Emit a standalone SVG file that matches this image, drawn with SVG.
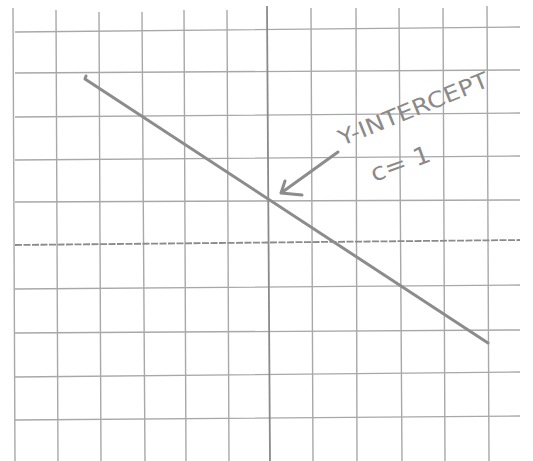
<svg xmlns="http://www.w3.org/2000/svg" width="533" height="461" viewBox="0 0 533 461">
<style>
.g{stroke:#a8a8a8;stroke-width:1.4;fill:none}
.ax{stroke:#8a8a8a;stroke-width:1.8;fill:none}
.ln{stroke:#8c8c8c;stroke-width:3;fill:none;stroke-linecap:round;stroke-linejoin:round}
.t{font-family:"DejaVu Sans","Liberation Sans",sans-serif;fill:#8a8a8a}
</style>
<rect width="533" height="461" fill="#ffffff"/>
<g id="grid">
<path class="g" d="M13 8 L15 461 M56 10 L58 461 M99 12 L101 461 M142 12 L145 461 M184 10 L186 461 M227 10 L229 461 M311 8 L313 461 M356 8 L357 461 M399 8 L402 461 M443 8 L445 461 M487 6 L489 461"/>
<path class="g" d="M15 32 L520 27 M15 73 L520 70 M15 117 L520 113 M15 160 L520 156 M15 202 L520 200 M15 289 L520 285 M15 333 L520 330 M15 377 L520 372 M15 420 L520 416"/>
</g>
<g id="axes">
<path class="ax" d="M267 6 L270 461"/>
<path class="ax" d="M15 245 L520 240" stroke-dasharray="7 1.5"/>
</g>
<g id="line">
<path class="ln" d="M86 76 L85 79 L488 343"/>
</g>
<g id="connectors">
<path class="ln" d="M338 152 L281 193 M285 181 L281 193 L302 195" stroke-width="2.6"/>
</g>
<g id="label">
<text class="t" x="342" y="146" font-size="22" textLength="160" lengthAdjust="spacingAndGlyphs" transform="rotate(-22 342 146)">Y-INTERCEPT</text>
<text class="t" x="374" y="182" font-size="24" textLength="62" lengthAdjust="spacingAndGlyphs" transform="rotate(-20 374 182)">c= 1</text>
</g>
</svg>
